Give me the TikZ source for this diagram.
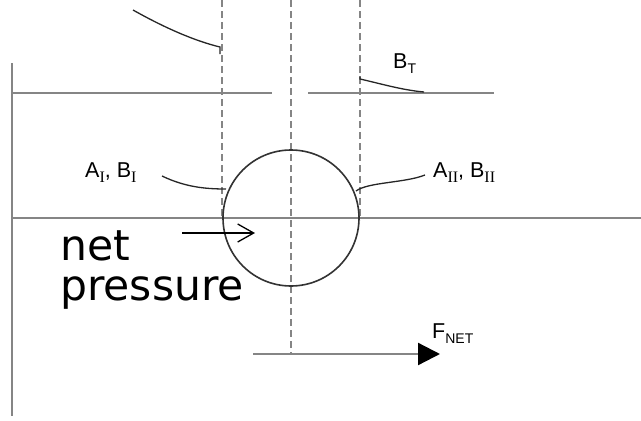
\documentclass[tikz,border=0pt]{standalone}
\usepackage{fontspec}
\setmainfont{Liberation Sans}
\newfontfamily\npfont{DejaVu Sans}
\newfontfamily\serifsub{Liberation Serif}
\usetikzlibrary{arrows.meta}
\newcommand{\mysubsans}[1]{\raisebox{-5pt}{\fontsize{14}{14}\selectfont #1}}
\newcommand{\mysubser}[1]{\raisebox{-5pt}{\fontsize{16}{16}\selectfont\serifsub #1}}
\definecolor{lg}{HTML}{858585}
\begin{document}
\begin{tikzpicture}[x=1pt,y=-1pt,
  struct/.style={draw=lg,line width=2.3pt},
  dashline/.style={draw=lg,line width=2.2pt,dash pattern=on 7pt off 4pt},
  lead/.style={draw=black!85,line width=1.3pt},
  lbl/.style={inner sep=0pt,anchor=base west,font=\fontsize{21.5}{21.5}\selectfont},
  nptext/.style={inner sep=0pt,anchor=base west,font=\npfont\fontsize{42.5}{42.5}\selectfont}]
\useasboundingbox (0,0) rectangle (641,421);
% coordinates
\coordinate (wallT) at (12,63);
\coordinate (wallB) at (12,416);
\coordinate (u1a) at (12,93);
\coordinate (u1b) at (272,93);
\coordinate (u2a) at (308,93);
\coordinate (u2b) at (494,93);
\coordinate (ma) at (12,218);
\coordinate (mb) at (641,218);
\coordinate (d1t) at (222,0);
\coordinate (d1b) at (222,220);
\coordinate (d2t) at (291,0);
\coordinate (d2b) at (291,354);
\coordinate (d3t) at (360,0);
\coordinate (d3b) at (360,220);
\coordinate (ctr) at (291,218);
% structure
\draw[struct] (wallT) -- (wallB);
\draw[struct] (u1a) -- (u1b);
\draw[struct] (u2a) -- (u2b);
\draw[struct] (ma) -- (mb);
\draw[dashline] (d1t) -- (d1b);
\draw[dashline] (d2t) -- (d2b);
\draw[dashline] (d3t) -- (d3b);
% circle
\node[circle,draw=black!80,line width=1.6pt,minimum size=136pt,inner sep=0pt] (ball) at (ctr) {};
% top-left curve
\coordinate (tl0) at (133,10);
\coordinate (tl1) at (220,47);
\coordinate (tl2) at (220,54);
\draw[lead] (tl0) .. controls (165,28) and (195,41) .. (tl1) -- (tl2);
% B_T curve
\coordinate (bt0) at (360,76);
\coordinate (bt1) at (360,79);
\coordinate (bt2) at (424,92);
\draw[lead] (bt0) -- (bt1) .. controls (382,84) and (402,90) .. (bt2);
% A_I curve
\coordinate (ai0) at (162,176);
\coordinate (ai1) at (226,189);
\draw[lead] (ai0) .. controls (185,187) and (205,189) .. (ai1);
% A_II curve
\coordinate (aii0) at (425,175);
\coordinate (aii1) at (356,191);
\draw[lead] (aii0) .. controls (405,183) and (368,182) .. (aii1);
% net pressure arrow
\coordinate (np0) at (182,233);
\coordinate (np1) at (255,233);
\draw[line width=1.3pt,-{Straight Barb[length=16pt,width=18pt]}] (np0) -- (np1);
% F_NET arrow
\coordinate (fa) at (253,354);
\coordinate (fb) at (440,354);
\draw[draw=lg,line width=2.3pt,-{Triangle[length=22pt,width=22pt,fill=black,color=black]}] (fa) -- (fb);
% labels
\node[lbl] (lBT) at (393,68) {B\mysubsans{T}};
\node[lbl] (lAI) at (85,177) {A\mysubser{I}, B\mysubser{I}};
\node[lbl] (lAII) at (433,177) {A\mysubser{II}, B\mysubser{II}};
\node[lbl] (lF) at (432,338) {F\mysubsans{NET}};
\node[nptext] (net) at (60,260) {net};
\node[nptext] (press) at (60,300) {pressure};
\end{tikzpicture}
\end{document}
